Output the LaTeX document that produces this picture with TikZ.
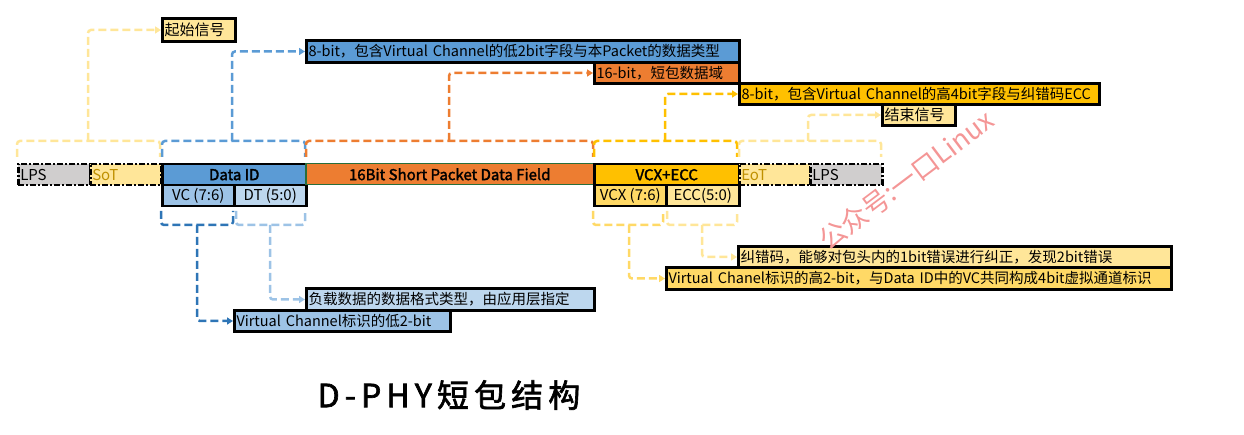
\documentclass[tikz,border=0pt]{standalone}
\usepackage{fontspec}
\setmainfont{Noto Sans CJK SC}[AutoFakeBold=2]
\newfontfamily\titlefont{Noto Sans CJK SC}[LetterSpace=16, AutoFakeBold=2]
\usetikzlibrary{arrows.meta, positioning, calc}

\definecolor{lpsgray}{RGB}{208, 206, 206}
\definecolor{sotyel}{RGB}{255, 230, 153}
\definecolor{sottxt}{RGB}{191, 144, 0}
\definecolor{idblue}{RGB}{91, 155, 213}
\definecolor{vcblue}{RGB}{157, 195, 230}
\definecolor{dtblue}{RGB}{189, 215, 238}
\definecolor{darkblue}{RGB}{46, 117, 182}
\definecolor{spor}{RGB}{237, 125, 49}
\definecolor{spgreen}{RGB}{40, 110, 60}
\definecolor{eccgold}{RGB}{255, 192, 0}
\definecolor{vcxyel}{RGB}{255, 217, 102}
\definecolor{wmpink}{RGB}{244, 150, 150}

\begin{document}
\begin{tikzpicture}[
  x=1pt, y=-1pt,
  cell/.style={draw, line width=2.5pt, inner sep=0pt, minimum height=21pt, anchor=north west, font=\fontsize{15}{17}\selectfont},
  lpcell/.style={cell, dash pattern=on 6pt off 2pt on 2pt off 2pt, inner xsep=2pt, align=left},
  note/.style={draw, line width=3pt, inner xsep=2pt, inner ysep=0pt, minimum height=21pt, anchor=north west, align=left, font=\fontsize{14.5}{16}\selectfont},
  brace/.style={line width=2.5pt, dash pattern=on 8pt off 4pt, rounded corners=3pt},
  lead/.style={brace, -{Triangle[length=6pt, width=7pt]}}
]
  \useasboundingbox (0,0) rectangle (1244,435);

  % --- packet row ---
  \node[lpcell, fill=lpsgray, text width=68pt] (lpsa) at (17,163) {LPS};
  \node[lpcell, fill=sotyel, text width=67pt, text=sottxt] (sot) at (89,163) {SoT};
  \node[cell, fill=idblue, minimum width=144pt, font=\fontsize{15}{17}\selectfont\bfseries] (did) at (161,163) {Data ID};
  \node[cell, fill=vcblue, minimum width=72pt] (vc) at (161,184) {VC (7:6)};
  \node[cell, fill=dtblue, minimum width=72pt] (dt) at (233,184) {DT (5:0)};
  \node[cell, fill=spor, draw=spgreen, line width=1.5pt, minimum width=288pt, font=\fontsize{15}{17}\selectfont\bfseries] (sp) at (305,163) {16Bit Short Packet Data Field};
  \node[cell, fill=eccgold, minimum width=145pt, font=\fontsize{15}{17}\selectfont\bfseries] (vcx) at (593,163) {VCX+ECC};
  \node[cell, fill=vcxyel, minimum width=72pt] (vcxb) at (593,184) {VCX (7:6)};
  \node[cell, fill=sotyel, minimum width=73pt] (ecc) at (665,184) {ECC(5:0)};
  \node[lpcell, fill=sotyel, text width=67pt, text=sottxt] (eot) at (738,163) {EoT};
  \node[lpcell, fill=lpsgray, text width=68pt] (lpsb) at (809,163) {LPS};

  % --- notes above ---
  \node[note, fill=sotyel, text width=69pt, minimum height=23pt, font=\fontsize{15}{17}\selectfont] (n0) at (161,17) {起始信号};
  \node[note, fill=idblue, text width=429pt, minimum height=22pt] (n1) at (305,39) {8-bit，包含Virtual Channel的低2bit字段与本Packet的数据类型};
  \node[note, fill=spor, text width=141pt] (n2) at (593,61) {16-bit，短包数据域};
  \node[note, fill=eccgold, text width=356pt] (n3) at (738,82) {8-bit，包含Virtual Channel的高4bit字段与纠错码ECC};
  \node[note, fill=sotyel, text width=69pt, font=\fontsize{15}{17}\selectfont] (n4) at (881,103) {结束信号};

  % --- notes below ---
  \node[note, fill=vcblue, text width=212pt] (m1) at (233,309) {Virtual Channel标识的低2-bit};
  \node[note, fill=dtblue, text width=284pt, minimum height=22pt] (m2) at (305,287) {负载数据的数据格式类型，由应用层指定};
  \node[note, fill=sotyel, text width=429pt] (m4) at (737,245) {纠错码，能够对包头内的1bit错误进行纠正，发现2bit错误};
  \node[note, fill=vcxyel, text width=501pt, minimum height=22pt] (m3) at (665,266) {Virtual Chanel标识的高2-bit，与Data ID中的VC共同构成4bit虚拟通道标识};

  % --- braces above ---
  \coordinate (t1) at (88,141);
  \coordinate (t2) at (232,141);
  \coordinate (t3) at (449,141);
  \coordinate (t4) at (665,141);
  \coordinate (t5) at (808,141);
  \draw[brace, sotyel] (17,157) |- (t1) -| (160,157);
  \draw[brace, idblue] (162,157) |- (t2) -| (305,157);
  \draw[brace, spor] (306,157) |- (t3) -| (593,157);
  \draw[brace, eccgold] (594,157) |- (t4) -| (737,157);
  \draw[brace, sotyel] (739,157) |- (t5) -| (881,157);
  \draw[lead, sotyel] (t1) |- (n0.west);
  \draw[lead, idblue] (t2) |- (n1.west);
  \draw[lead, spor] (t3) |- (n2.west);
  \draw[lead, eccgold] (t4) |- (n3.west);
  \draw[lead, sotyel] (t5) |- (n4.west);

  % --- braces below ---
  \coordinate (u1) at (197,225);
  \coordinate (u2) at (270,225);
  \coordinate (u3) at (629,225);
  \coordinate (u4) at (702,225);
  \draw[brace, darkblue] (161,211) |- (u1) -| (233,211);
  \draw[brace, vcblue] (236,211) |- (u2) -| (305,211);
  \draw[brace, vcxyel] (593,211) |- (u3) -| (663,211);
  \draw[brace, sotyel] (667,211) |- (u4) -| (737,211);
  \draw[lead, darkblue] (u1) |- (m1.west);
  \draw[lead, vcblue] (u2) |- (m2.west);
  \draw[lead, vcxyel] (u3) |- (m3.west);
  \draw[lead, sotyel] (u4) |- (m4.west);

  % --- title, watermark ---
  \node[font=\titlefont\bfseries\fontsize{32}{36}\selectfont] (title) at (449,395) {D-PHY短包结构};
  \node[text=wmpink, rotate=37, font=\fontsize{27}{29}\selectfont] (wm) at (906,180) {公众号:一口Linux};
\end{tikzpicture}
\end{document}
